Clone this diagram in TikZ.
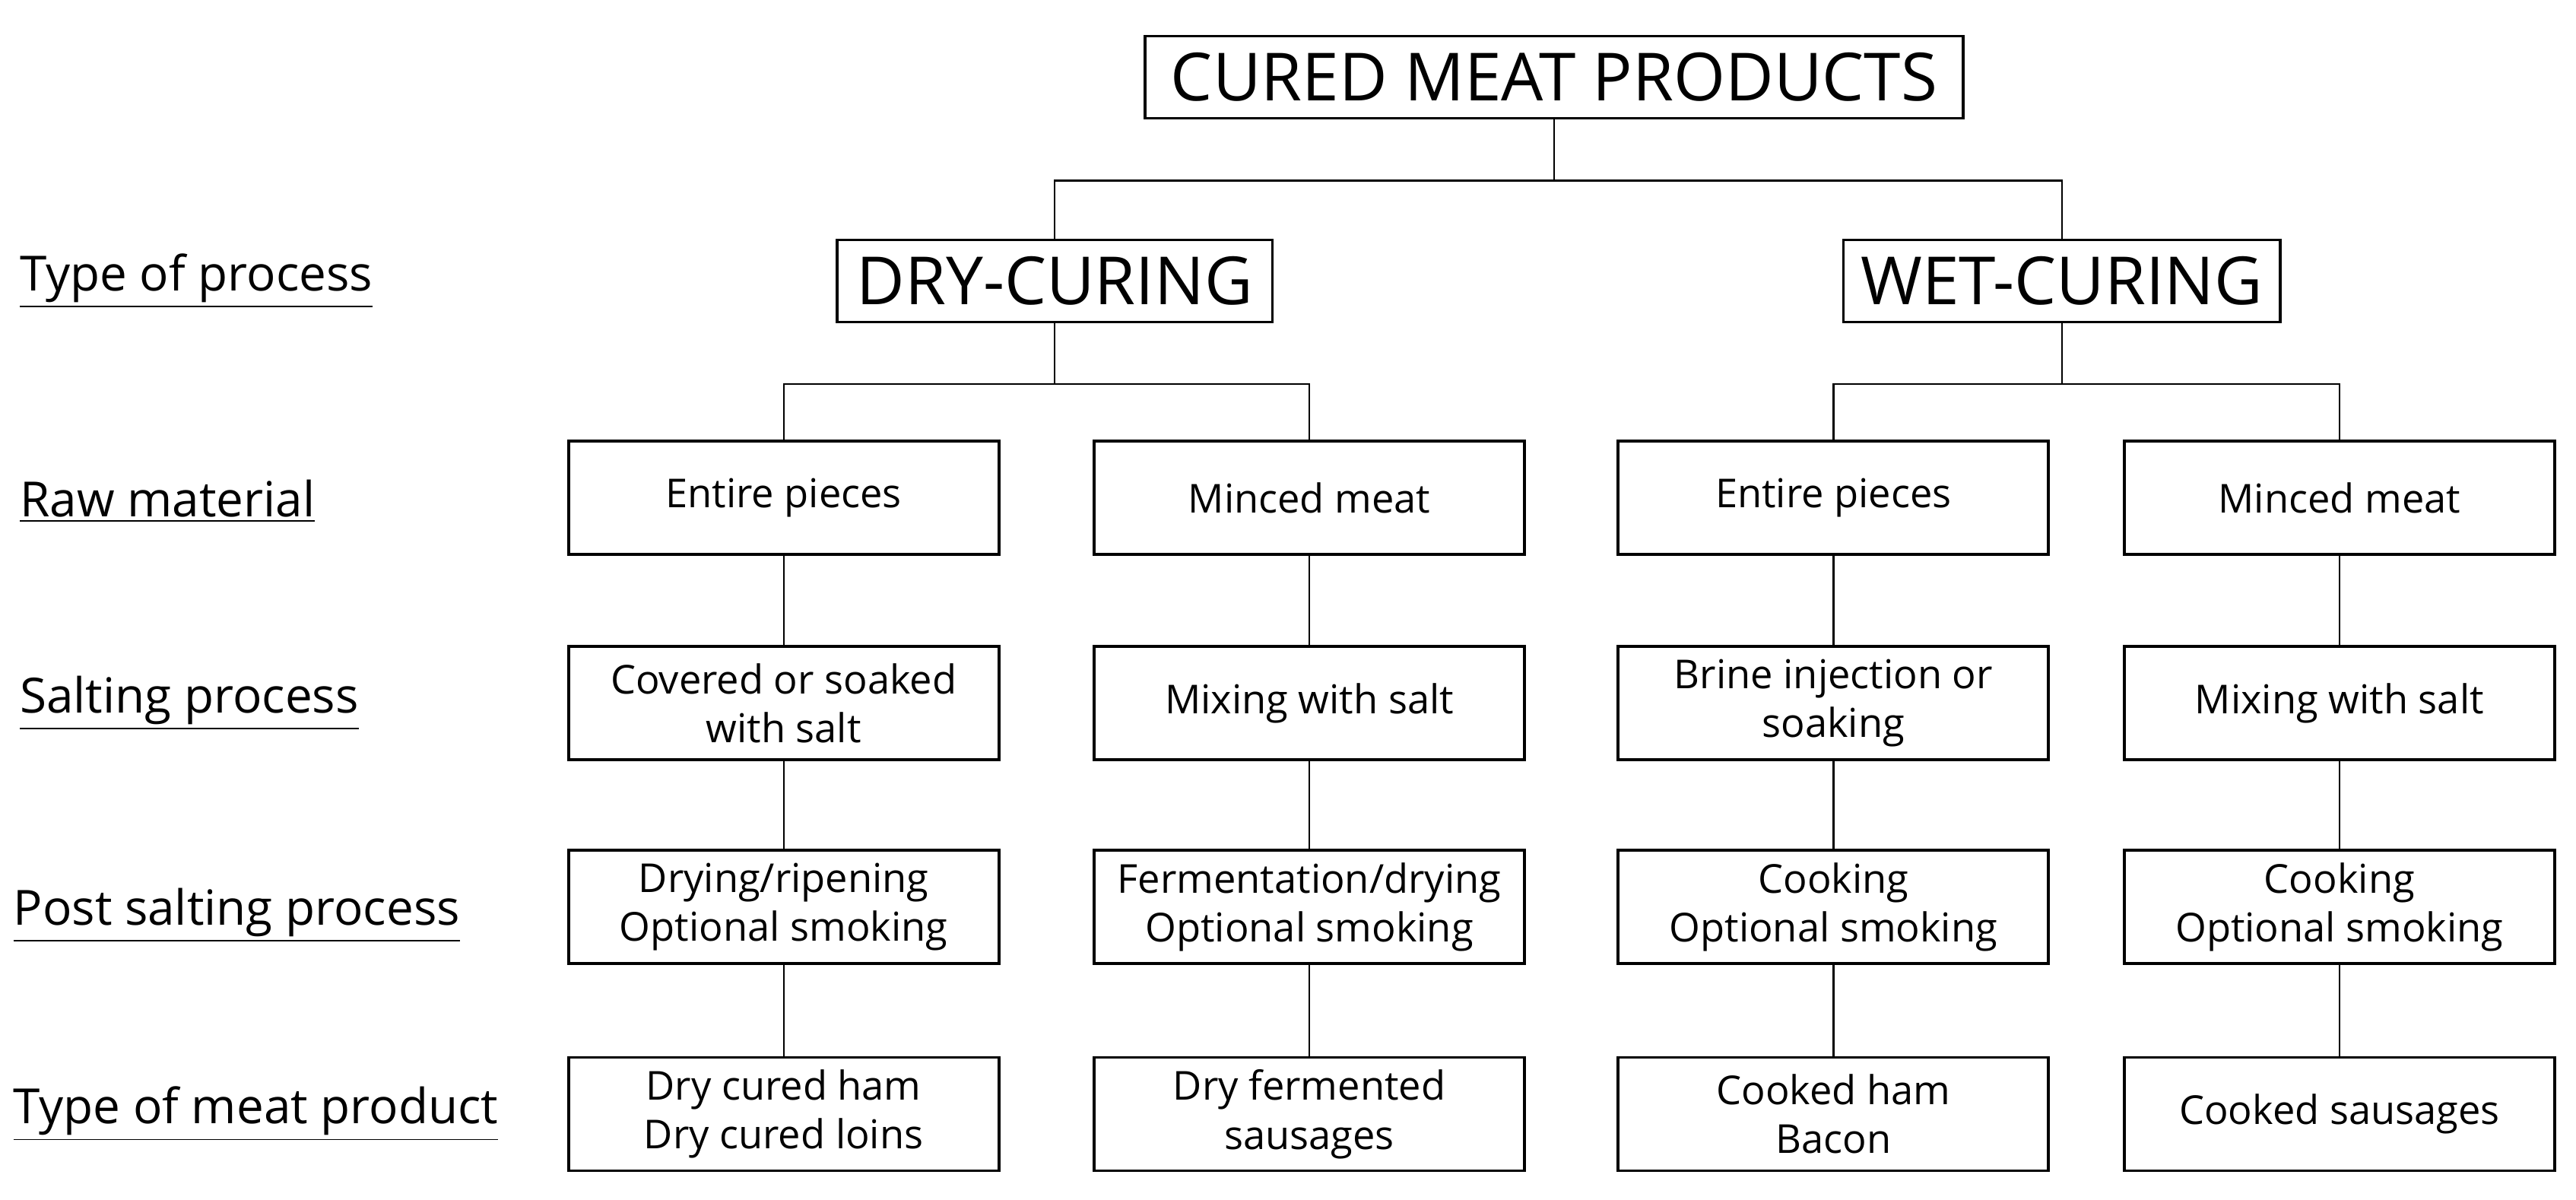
\documentclass[tikz,border=0pt]{standalone}
\usepackage{fontspec}
\setmainfont{Open Sans}
\begin{document}
\begin{tikzpicture}[x=0.02cm,y=-0.02cm,
 big/.style={draw,line width=1pt,minimum height=1cm,inner xsep=4pt,font=\fontsize{23}{26}\selectfont},
 box/.style={draw,line width=1pt,minimum width=5.24cm,minimum height=1.38cm,align=center,font=\fontsize{13.8}{17}\selectfont},
 lab/.style={anchor=west,font=\fontsize{16.8}{19}\selectfont},
 con/.style={line width=0.6pt}]
\useasboundingbox (0,0) rectangle (1568,730);
\node[big,minimum width=9.96cm] (top) at (946,47) {CURED MEAT PRODUCTS};
\node[big,minimum width=5.3cm] (dry) at (642,171) {DRY-CURING};
\node[big,minimum width=5.32cm] (wet) at (1255,171) {WET-CURING};
\node[box] (r1) at (477,303) {Entire pieces};
\node[box] (r2) at (797,303) {Minced meat};
\node[box] (r3) at (1116,303) {Entire pieces};
\node[box] (r4) at (1424,303) {Minced meat};
\node[box] (s1) at (477,428) {Covered or soaked\\with salt};
\node[box] (s2) at (797,428) {Mixing with salt};
\node[box] (s3) at (1116,428) {Brine injection or\\soaking};
\node[box] (s4) at (1424,428) {Mixing with salt};
\node[box] (p1) at (477,552) {Drying/ripening\\Optional smoking};
\node[box] (p2) at (797,552) {Fermentation/drying\\Optional smoking};
\node[box] (p3) at (1116,552) {Cooking\\Optional smoking};
\node[box] (p4) at (1424,552) {Cooking\\Optional smoking};
\node[box] (t1) at (477,678) {Dry cured ham\\Dry cured loins};
\node[box] (t2) at (797,678) {Dry fermented\\sausages};
\node[box] (t3) at (1116,678) {Cooked ham\\Bacon};
\node[box] (t4) at (1424,678) {Cooked sausages};
\draw[con] (top.south) -- ++(0,37) -| (dry.north);
\draw[con] (top.south) -- ++(0,37) -| (wet.north);
\draw[con] (dry.south) -- ++(0,37) -| (r1.north);
\draw[con] (dry.south) -- ++(0,37) -| (r2.north);
\draw[con] (wet.south) -- ++(0,37) -| (r3.north);
\draw[con] (wet.south) -- ++(0,37) -| (r4.north);
\foreach \i in {1,2,3,4}{
 \draw[con] (r\i) -- (s\i); \draw[con] (s\i) -- (p\i); \draw[con] (p\i) -- (t\i);}
\node[lab] (l1) at (6,171) {\underline{Type of process}};
\node[lab] (l2) at (6,305) {\underline{Raw material}};
\node[lab] (l3) at (6,428) {\underline{Salting process}};
\node[lab] (l4) at (2,557) {\underline{Post salting process}};
\node[lab] (l5) at (2,678) {\underline{Type of meat product}};
\end{tikzpicture}
\end{document}
